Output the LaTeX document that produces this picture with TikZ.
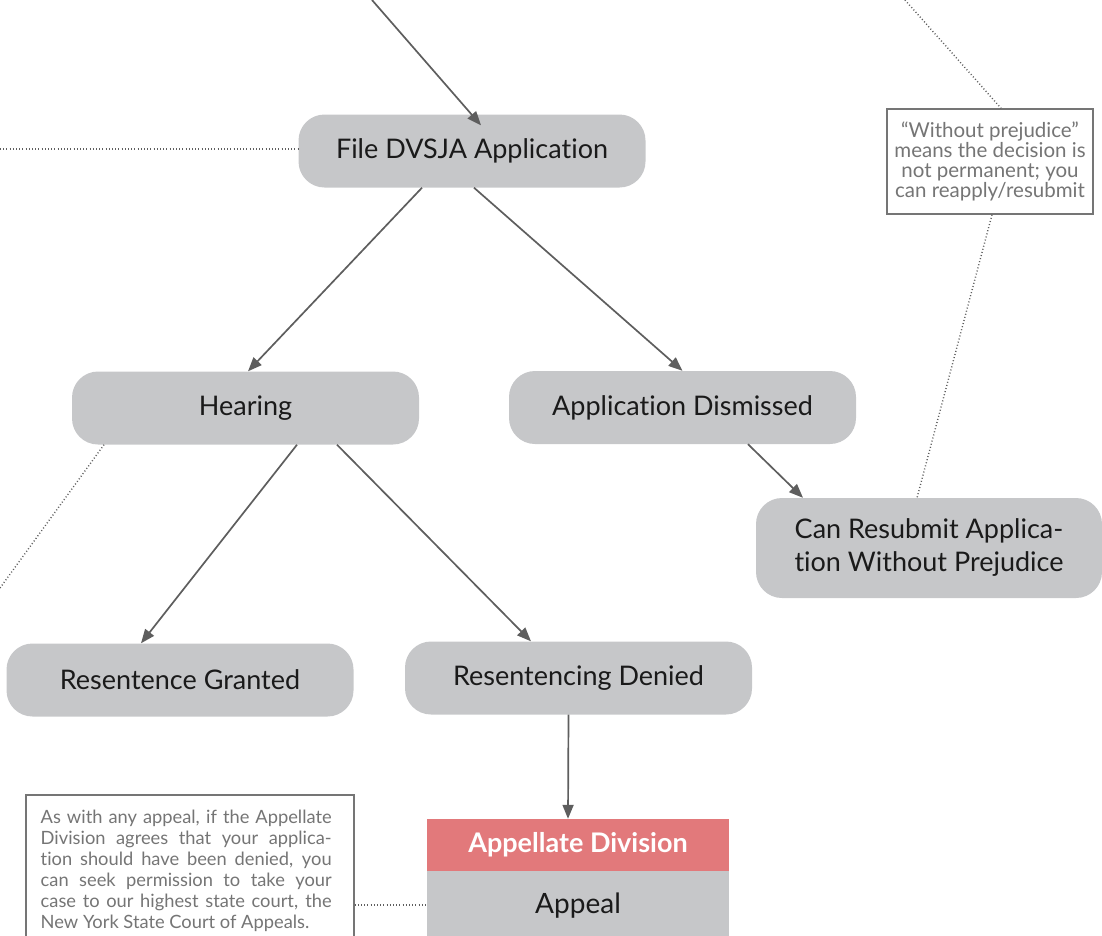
\documentclass[tikz,border=0pt]{standalone}
\usepackage{fontspec}
\setmainfont{Lato}[Ligatures={NoCommon}]
\usetikzlibrary{arrows.meta}
\definecolor{boxgray}{HTML}{C6C7C9}
\definecolor{hdrred}{HTML}{E2797B}
\definecolor{linegray}{HTML}{5E5E5E}
\definecolor{notegray}{HTML}{757575}
\definecolor{txt}{HTML}{1A1A1A}
\begin{document}
\begin{tikzpicture}[x=1pt,y=-1pt,
  stepbox/.style={fill=boxgray, rounded corners=26pt, minimum width=347pt, minimum height=73pt,
    text=txt, font=\fontsize{27}{33}\selectfont, inner sep=0pt, align=center},
  arr/.style={draw=linegray, line width=1.7pt, -{Triangle[length=14pt,width=11pt]}},
  dots/.style={draw=linegray, line width=1.4pt, dash pattern=on 1pt off 2.2pt},
  notebox/.style={draw=notegray, line width=1.6pt, fill=white, inner sep=0pt}
]
\useasboundingbox (0,0) rectangle (1102,935);
\clip (0,0) rectangle (1102,935);

% main steps
\node[stepbox] (file) at (472,151) {File DVSJA Application};
\node[stepbox] (hearing) at (245.5,408) {Hearing};
\node[stepbox] (dismissed) at (682.5,407.5) {Application Dismissed};
\node[stepbox, minimum height=100pt, minimum width=346pt] (resubmit) at (929,548) {Can Resubmit Applica-\\tion Without Prejudice};
\node[stepbox] (granted) at (180,680) {Resentence Granted};
\node[stepbox] (denied) at (578.5,678) {Resentencing Denied};

% appellate division
\node[fill=hdrred, minimum width=302pt, minimum height=52pt, inner sep=0pt, text=white,
  font=\fontsize{27}{30}\selectfont\bfseries] (appdiv) at (578,845) {Appellate Division};
\node[fill=boxgray, minimum width=302pt, minimum height=70pt, inner sep=0pt, text=txt,
  font=\fontsize{28}{30}\selectfont, anchor=north] (appeal) at (578,871) {\raisebox{7pt}{Appeal}};

% notes
\node[notebox, minimum width=206pt, minimum height=105pt, text=notegray, align=center,
  font=\fontsize{20.5}{20}\selectfont] (noteright) at (990,161.5)
  {``Without prejudice''\\means the decision is\\not permanent; you\\can reapply/resubmit};
\node[notebox, minimum width=328pt, minimum height=160pt, anchor=north west] (noteleft) at (25,794) {};
\node[anchor=north west, inner sep=0pt, text width=291pt, text=notegray, align=justify,
  font=\fontsize{18.3}{21}\selectfont] (notelefttext) at (40.5,810)
  {As with any appeal, if the Appellate\linebreak Division agrees that your applica-\linebreak
   tion should have been denied, you\linebreak can seek permission to take your\linebreak
   case to our highest state court, the\linebreak New York State Court of Appeals.};

% free ends
\coordinate (topin) at (372,0);
\coordinate (lefta) at (0,149);
\coordinate (topright) at (905,0);
\coordinate (leftb) at (0,588);

% arrows
\draw[arr] (topin) -- ([xshift=9pt,yshift=-11pt]file.north);
\draw[arr] ([xshift=-50pt]file.south) -- ([xshift=2.5pt]hearing.north);
\draw[arr] ([xshift=2pt]file.south) -- ([xshift=0pt]dismissed.north);
\draw[arr] ([xshift=51.5pt]hearing.south) -- ([xshift=-39pt]granted.north);
\draw[arr] ([xshift=91.5pt]hearing.south) -- ([xshift=-47.5pt]denied.north);
\draw[arr] ([xshift=65.5pt]dismissed.south) -- ([xshift=-126pt]resubmit.north);
\draw[arr] ([xshift=-10pt]denied.south) -- ([xshift=-10pt]appdiv.north);

% dotted links
\draw[dots] (lefta) -- (file.west |- lefta);
\draw[dots] (topright) -- ([xshift=11pt]noteright.north);
\draw[dots] ([xshift=2pt]noteright.south) -- ([xshift=-12pt]resubmit.north);
\draw[dots] ([xshift=-141.5pt]hearing.south) -- (leftb);
\draw[dots] (noteleft.east |- 0,905) -- (appeal.west |- 0,905);
\end{tikzpicture}
\end{document}
